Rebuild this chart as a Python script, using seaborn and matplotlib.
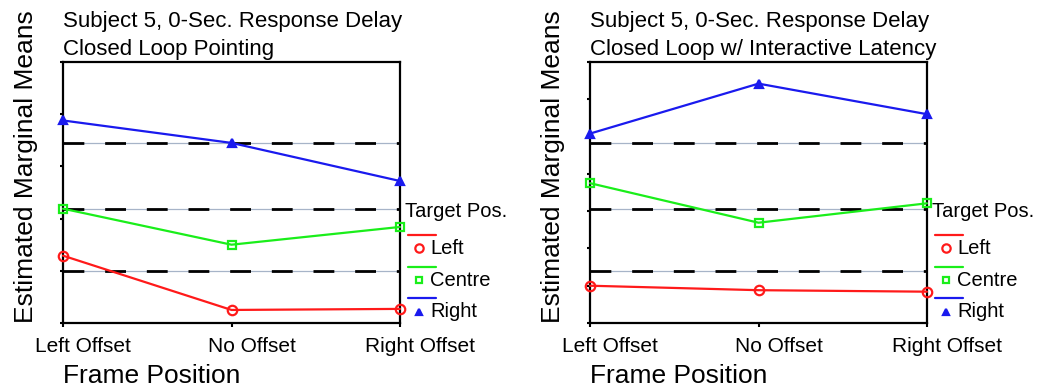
import matplotlib
matplotlib.use("Agg")
import matplotlib.pyplot as plt
from matplotlib.lines import Line2D
from matplotlib.transforms import ScaledTranslation
import seaborn as sns
import pandas as pd

# ---- data ----
frame_positions = ["Left Offset", "No Offset", "Right Offset"]
targets = ["Left", "Centre", "Right"]

pointing_left = [1.29, 0.25, 0.27]
pointing_centre = [2.19, 1.50, 1.84]
pointing_right = [3.88, 3.45, 2.72]
pointing_refs = [0.99, 2.19, 3.45]

latency_left = [1.00, 0.88, 0.84]
latency_centre = [3.75, 2.69, 3.21]
latency_right = [5.08, 6.42, 5.60]
latency_refs = [1.39, 3.07, 4.83]

titles = ["Subject 5, 0-Sec. Response Delay\nClosed Loop Pointing",
          "Subject 5, 0-Sec. Response Delay\nClosed Loop w/ Interactive Latency"]
y_label = "Estimated Marginal Means"
x_label = "Frame Position"
legend_title = "Target Pos."

# ---- style ----
sns.set_style("white")
plt.rcParams["font.family"] = ["Liberation Sans", "DejaVu Sans"]
plt.rcParams["text.color"] = "black"
plt.rcParams["axes.labelcolor"] = "black"
plt.rcParams["xtick.color"] = "black"
plt.rcParams["ytick.color"] = "black"

colors = {"Left": "#ff1a1a", "Centre": "#1aee1a", "Right": "#1a1aee"}
markers = {"Left": "o", "Centre": "s", "Right": "^"}
msize = {"Left": 6.8, "Centre": 5.4, "Right": 5.2}
mfill = {"Left": False, "Centre": False, "Right": True}

fig = plt.figure(figsize=(10.42, 3.9), dpi=100)
W, H = 1042.0, 390.0

panels = [
    dict(left=63, series=[pointing_left, pointing_centre, pointing_right],
         refs=pointing_refs, ymax=5, title=titles[0]),
    dict(left=590, series=[latency_left, latency_centre, latency_right],
         refs=latency_refs, ymax=7, title=titles[1]),
]

ax_top, ax_bot = 62, 323
for p in panels:
    ax = fig.add_axes([p["left"] / W, 1 - ax_bot / H, 337 / W, (ax_bot - ax_top) / H])
    # reference lines (gray thin + black dashed)
    for r in p["refs"]:
        ax.axhline(r, color="#a7b4c8", lw=0.9, zorder=1)
        ax.axhline(r, color="black", lw=2.0, dashes=(7.5, 7.5), zorder=1.5)
    for name, vals in zip(targets, p["series"]):
        df = pd.DataFrame({"frame": frame_positions, "value": vals})
        c = colors[name]
        sns.lineplot(data=df, x="frame", y="value", ax=ax, sort=False,
                     color=c, lw=1.6, marker=markers[name],
                     markersize=msize[name],
                     markerfacecolor=(c if mfill[name] else "none"),
                     markeredgecolor=c, markeredgewidth=1.6,
                     clip_on=False, zorder=3, errorbar=None)
    ax.set_xlim(0, 2)
    ax.set_ylim(0, p["ymax"])
    ax.set_yticks(range(0, p["ymax"] + 1))
    ax.set_yticklabels([])
    ax.set_xticks(range(len(frame_positions)))
    ax.set_xticklabels(frame_positions, fontsize=15)
    ax.tick_params(axis="y", direction="out", length=2.5, width=1.5, color="black", left=True)
    ax.tick_params(axis="x", direction="out", length=3, width=1.5, color="black", bottom=True, pad=7)
    shift = ScaledTranslation(20 / 100, 0, fig.dpi_scale_trans)
    for tk in ax.xaxis.get_major_ticks():
        tk.label1.set_transform(tk.label1.get_transform() + shift)
    for s in ax.spines.values():
        s.set_color("black")
        s.set_linewidth(1.6)
    ax.set_ylabel(y_label, fontsize=19, loc="bottom")
    ax.yaxis.set_label_coords(-0.075, 0)
    ax.set_xlabel(x_label, fontsize=19, loc="left", labelpad=6)
    ax.set_title(p["title"], loc="left", fontsize=16, pad=5, linespacing=1.45)

    # legend drawn manually (SPSS style: line above, marker left of label)
    off = p["left"] - 63
    fig.text((405 + off) / W, 1 - 212 / H, legend_title, fontsize=14.5,
             ha="left", va="center")
    for i, name in enumerate(targets):
        ly = 235 + i * 31.7
        my = 248.3 + i * 31.7
        c = colors[name]
        fig.add_artist(Line2D([(408 + off) / W, (436 + off) / W], [1 - ly / H, 1 - ly / H],
                              transform=fig.transFigure, color=c, lw=1.6))
        fig.add_artist(Line2D([(419 + off) / W], [1 - my / H], transform=fig.transFigure,
                              marker=markers[name], color=c, ls="none",
                              markersize=msize[name] - 0.8,
                              markerfacecolor=(c if mfill[name] else "none"),
                              markeredgecolor=c, markeredgewidth=1.6))
        fig.text((430 + off) / W, 1 - my / H, name, fontsize=14.5, ha="left", va="center")

fig.savefig("out.png", dpi=100)
